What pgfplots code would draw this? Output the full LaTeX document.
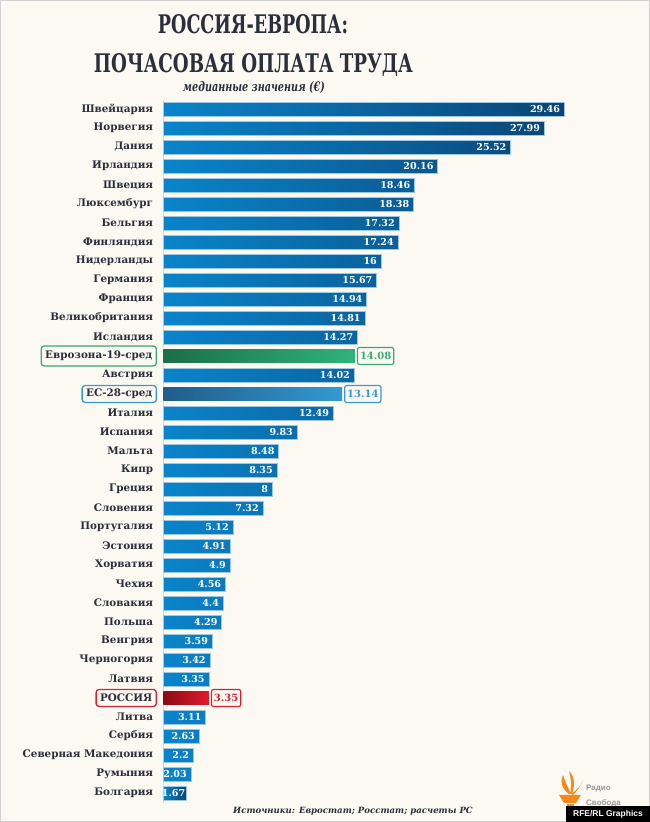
\documentclass[border=0pt]{standalone}
\usepackage{fontspec}
\setmainfont{DejaVu Serif}
\newfontfamily\sansf{Liberation Sans}
\usepackage{graphicx}
\usepackage{pgfplots}
\pgfplotsset{compat=1.18}

\definecolor{bg}{HTML}{FCF9F3}
\definecolor{ink}{HTML}{2B2E3B}
\definecolor{blueL}{HTML}{0A84CB}
\definecolor{blueR}{HTML}{0A4474}
\definecolor{blueEdge}{HTML}{9CC8E6}
\definecolor{grnL}{HTML}{1B6E48}
\definecolor{grnR}{HTML}{2FB37C}
\definecolor{grnBox}{HTML}{3AA977}
\definecolor{euL}{HTML}{1F5D88}
\definecolor{euR}{HTML}{3399D5}
\definecolor{euBox}{HTML}{3A98D2}
\definecolor{ruL}{HTML}{8A0C16}
\definecolor{ruR}{HTML}{E31B2A}
\definecolor{ruBox}{HTML}{D32232}
\definecolor{flame}{HTML}{F28A1E}

\pgfplotsset{
  inlabel/.style={every node near coord/.style={anchor=east, xshift=#1, inner sep=0pt,
    text=white, font=\fontsize{9.6}{11}\selectfont\bfseries}},
  boxlabel/.style={every node near coord/.style={anchor=west, xshift=2bp, text=#1, draw=#1,
    fill=bg, line width=1.2bp, rounded corners=2bp, inner xsep=2.5bp, minimum height=17bp,
    font=\fontsize{10}{12}\selectfont\bfseries}},
}

\begin{document}
\begin{tikzpicture}
\useasboundingbox (0,0) rectangle (650bp,822bp);
\fill[bg] (0,0) rectangle (650bp,822bp);
\draw[gray!35, line width=0.8bp] (0.4bp,0.4bp) rectangle (649.6bp,821.6bp);

% titles
\node[anchor=base, text=ink, inner sep=0pt] at (253bp,788bp)
  {\resizebox{190bp}{19bp}{\bfseries РОССИЯ-ЕВРОПА:}};
\node[anchor=base, text=ink, inner sep=0pt] at (253.5bp,749bp)
  {\resizebox{319bp}{19bp}{\bfseries ПОЧАСОВАЯ ОПЛАТА ТРУДА}};
\node[anchor=base, text=ink, inner sep=0pt] at (254bp,730bp)
  {\resizebox{142bp}{10bp}{\bfseries\itshape медианные значения (€)}};

\begin{axis}[
  at={(163.3bp,722.5bp)}, anchor=north west,
  scale only axis, width=408.3bp, height=703bp,
  xmin=0, xmax=30, ymin=-0.5, ymax=36.5,
  y dir=reverse,
  xbar, bar width=13.5bp, bar shift=0pt,
  axis lines*=left,
  x axis line style={draw=none},
  y axis line style={draw=gray!30, line width=0.6bp},
  xtick=\empty,
  ytick={0,...,36},
  major tick length=0pt,
  yticklabels={Швейцария,Норвегия,Дания,Ирландия,Швеция,Люксембург,Бельгия,Финляндия,Нидерланды,Германия,Франция,Великобритания,Исландия,{},Австрия,{},Италия,Испания,Мальта,Кипр,Греция,Словения,Португалия,Эстония,Хорватия,Чехия,Словакия,Польша,Венгрия,Черногория,Латвия,{},Литва,Сербия,Северная Македония,Румыния,Болгария},
  yticklabel style={font=\fontsize{10.4}{12}\selectfont\bfseries, text=ink, inner sep=0pt, xshift=-10bp},
  point meta=explicit symbolic,
  nodes near coords,
  clip=false,
]
\addplot[draw=blueEdge, line width=0.5bp, left color=blueL, right color=blueR, inlabel=-4bp]
  coordinates {
  (29.46,0) [29.46]
  (27.99,1) [27.99]
  (25.52,2) [25.52]
  (20.16,3) [20.16]
  (18.46,4) [18.46]
  (18.38,5) [18.38]
  (17.32,6) [17.32]
  (17.24,7) [17.24]
  (16,8) [16]
  (15.67,9) [15.67]
  (14.94,10) [14.94]
  (14.81,11) [14.81]
  (14.27,12) [14.27]
  (14.02,14) [14.02]
  (12.49,16) [12.49]
  (9.83,17) [9.83]
  (8.48,18) [8.48]
  (8.35,19) [8.35]
  (8,20) [8]
  (7.32,21) [7.32]
  (5.12,22) [5.12]
  (4.91,23) [4.91]
  (4.9,24) [4.9]
  (4.56,25) [4.56]
  (4.4,26) [4.4]
  (4.29,27) [4.29]
  (3.59,28) [3.59]
  (3.42,29) [3.42]
  (3.35,30) [3.35]
  (3.11,32) [3.11]
  (2.63,33) [2.63]
  (2.2,34) [2.2]
  (2.03,35) [2.03]
};
\addplot[draw=blueEdge, line width=0.5bp, left color=blueL, right color=blueR, inlabel=-0.5bp]
  coordinates {(1.67,36) [1.67]};
\addplot[draw=none, left color=grnL, right color=grnR, boxlabel=grnBox]
  coordinates {(14.08,13) [14.08]};
\addplot[draw=none, left color=euL, right color=euR, boxlabel=euBox]
  coordinates {(13.14,15) [13.14]};
\addplot[draw=none, left color=ruL, right color=ruR, boxlabel=ruBox]
  coordinates {(3.35,31) [3.35]};

\node[anchor=east, xshift=-6.3bp, draw=grnBox, fill=bg, line width=1.3bp, rounded corners=3bp,
  inner xsep=4bp, minimum height=20bp, text=ink, font=\fontsize{10.4}{12}\selectfont\bfseries]
  at (axis cs:0,13) {Еврозона-19-сред};
\node[anchor=east, xshift=-6.3bp, draw=euBox, fill=bg, line width=1.3bp, rounded corners=3bp,
  inner xsep=4bp, minimum height=17bp, text=ink, font=\fontsize{10.4}{12}\selectfont\bfseries]
  at (axis cs:0,15) {ЕС-28-сред};
\node[anchor=east, xshift=-6.3bp, draw=ruBox, fill=bg, line width=1.3bp, rounded corners=3bp,
  inner xsep=4bp, minimum height=17bp, text=ink, font=\fontsize{10.4}{12}\selectfont\bfseries]
  at (axis cs:0,31) {РОССИЯ};
\end{axis}

% source line
\node[anchor=base, text=ink, inner sep=0pt] at (353bp,9bp)
  {\fontsize{8.6}{10}\selectfont\bfseries\itshape Источники: Евростат; Росстат; расчеты РС};

% logo
\fill[flame] (559bp,27bp) -- (581bp,27bp) -- (576bp,19bp) -- (564bp,19bp) -- cycle;
\fill[flame] (566.5bp,14bp) rectangle (573.5bp,18bp);
\fill[flame] (569bp,28bp) .. controls (561bp,34bp) and (560bp,41bp) .. (563bp,47bp)
  .. controls (565bp,40bp) and (568bp,35bp) .. (571bp,28bp) -- cycle;
\fill[flame] (570bp,28bp) .. controls (572bp,36bp) and (571bp,44bp) .. (569bp,51bp)
  .. controls (575bp,45bp) and (575bp,36bp) .. (572bp,28bp) -- cycle;
\fill[flame] (571bp,28bp) .. controls (577bp,32bp) and (581bp,36bp) .. (583bp,42bp)
  .. controls (580bp,35bp) and (577bp,31bp) .. (573bp,27bp) -- cycle;
\node[anchor=west, text=gray!80, inner sep=0pt] at (586bp,33bp)
  {\sansf\bfseries\fontsize{8}{9}\selectfont Радио};
\node[anchor=west, text=gray!80, inner sep=0pt] at (586bp,19bp)
  {\sansf\bfseries\fontsize{8}{9}\selectfont Свобода};
\fill[black] (566bp,0bp) rectangle (650bp,16bp);
\node[text=white, inner sep=0pt] at (608bp,8bp)
  {\sansf\bfseries\fontsize{8.5}{10}\selectfont RFE/RL Graphics};
\end{tikzpicture}
\end{document}
